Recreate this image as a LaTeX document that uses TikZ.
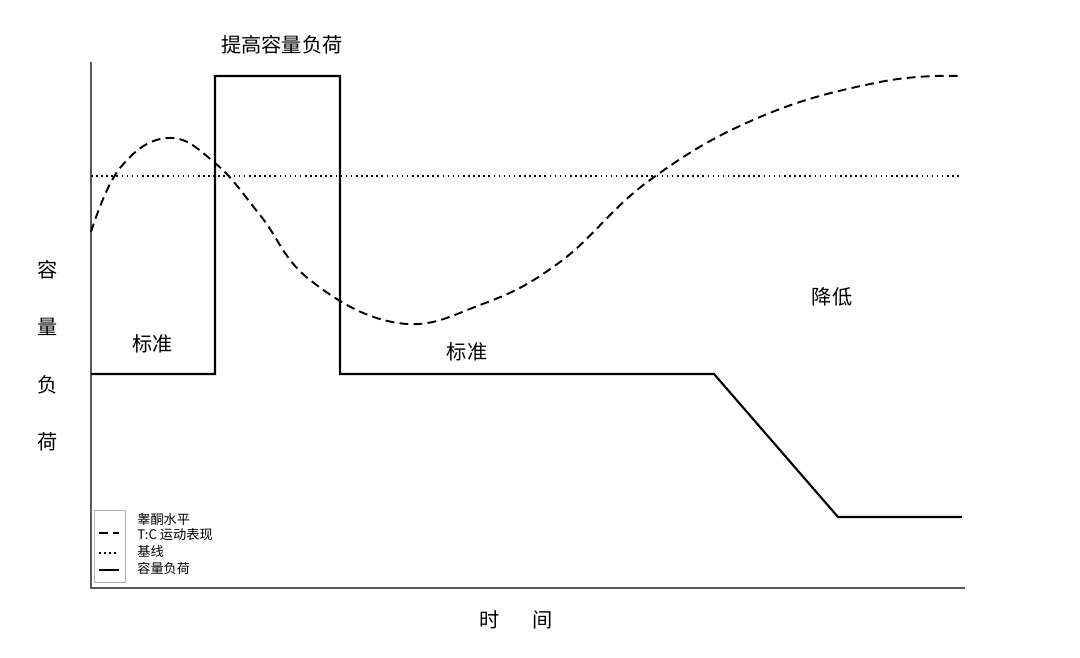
\documentclass[tikz,border=0pt]{standalone}
\usepackage{fontspec}
\setmainfont{Noto Sans CJK SC}
\begin{document}
\begin{tikzpicture}[x=0.02cm,y=-0.02cm]

% Define styles
\tikzset{label/.style={font=\fontsize{11.5}{13}\selectfont, inner sep=0pt},
  legtext/.style={font=\fontsize{7.5}{9}\selectfont, anchor=west, inner sep=0pt},
  loadline/.style={line width=1.2pt},
  tcline/.style={line width=1.1pt, dash pattern=on 5pt off 3pt},
  baseline/.style={line width=0.9pt, dotted}}

\useasboundingbox (0,0) rectangle (1080,658);

% Axes
\draw[gray!70!black, line width=0.6pt] (91,62) -- (91,588) -- (965,588);

% Curves
\draw[baseline] (91,176) -- (962,176);
\draw[tcline] plot[smooth, tension=0.7] coordinates {(91,232) (120,168) (168,138) (215,163) (260,215) (310,280) (398,323) (480,305) (560,262) (650,180) (760,117) (880,82) (962,76)};
\draw[loadline] (91,374) -- (215,374) -- (215,76) -- (340,76) -- (340,374) -- (714,374) -- (838,517) -- (962,517);

% Labels
\node[label] (peak) at (282,45) {提高容量负荷};
\node[label] (std1) at (153,344) {标准};
\node[label] (std2) at (467,352) {标准};
\node[label] (low) at (832,297) {降低};
\node[label] (time) at (516,620) {时\hspace{1.6em}间};
\foreach \t/\yy in {容/270, 量/327, 负/385, 荷/442}
  \node[label] at (48,\yy) {\t};

% Legend
\draw[gray!60, line width=0.4pt] (94,510) rectangle (125,582);
\node[legtext] (leg1) at (137,519) {睾酮水平};
\node[legtext] (leg2) at (137,535) {T:C 运动表现};
\node[legtext] (leg3) at (137,551) {基线};
\node[legtext] (leg4) at (137,568) {容量负荷};
\draw[tcline] (99,533) -- (119,533);
\draw[baseline] (99,553) -- (119,553);
\draw[loadline] (99,570) -- (119,570);

\end{tikzpicture}
\end{document}
